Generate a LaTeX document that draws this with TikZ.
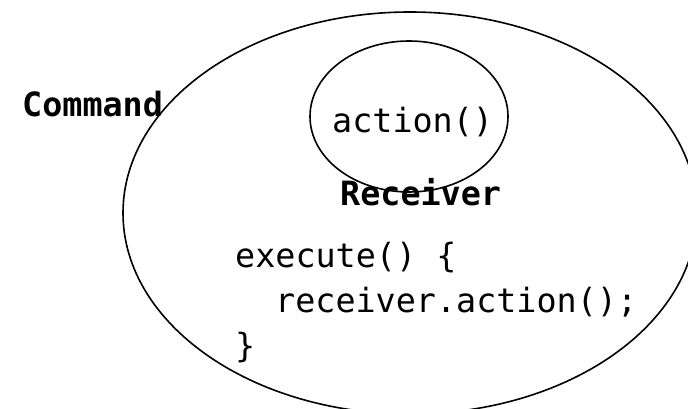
\documentclass[tikz,border=0pt]{standalone}
\usepackage{fontspec}
\setmonofont{DejaVu Sans Mono}
\usetikzlibrary{shapes.geometric}
\begin{document}
\begin{tikzpicture}[x=1pt,y=-1pt,
  blob/.style={draw=black, line width=1.6pt, ellipse, inner sep=0pt},
  code/.style={font=\fontsize{33.4}{40}\selectfont\ttfamily, inner sep=0pt, anchor=base west},
  label/.style={font=\fontsize{33.4}{40}\selectfont\ttfamily\bfseries, inner sep=0pt, anchor=base west}]
\useasboundingbox (0,0) rectangle (688,409);
\clip (0,0) rectangle (688,409);
\fill[white] (0,0) rectangle (688,409);
\node[blob, minimum width=574pt, minimum height=402pt] (command) at (410,213) {};
\node[blob, minimum width=198pt, minimum height=151pt] (receiver) at (409,116.5) {};
\node[label] (commandlbl) at (22,117) {Command};
\node[code] (action) at (332,132) {action()};
\node[label] (receiverlbl) at (340,205) {Receiver};
\node[code] (l1) at (235,267) {execute() \{};
\node[code] (l2) at (275,312) {receiver.action();};
\node[code] (l3) at (235,357) {\}};
\end{tikzpicture}
\end{document}
